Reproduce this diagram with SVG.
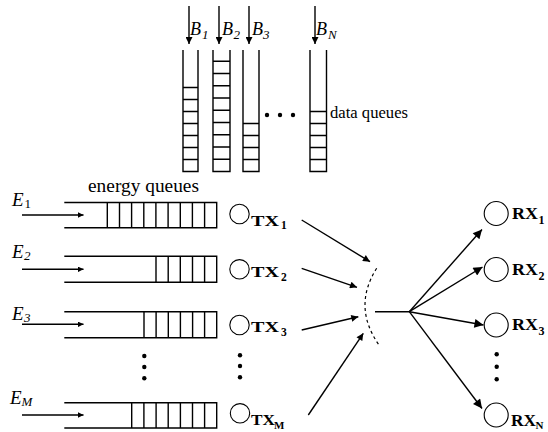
<svg xmlns="http://www.w3.org/2000/svg" width="548" height="432" viewBox="0 0 548 432">
<defs>
<style>
.q{fill:none;stroke:#000;stroke-width:1.4}
.ln{fill:none;stroke:#000;stroke-width:1.4}
.c{fill:#fff;stroke:#000;stroke-width:1.1}
.it{font-family:'Liberation Serif','Times New Roman',Times,serif;font-style:italic;fill:#000}
.rm{font-family:'Liberation Serif','Times New Roman',Times,serif;fill:#000}
.bd{font-family:'Liberation Serif','Times New Roman',Times,serif;font-weight:bold;fill:#000}
.dot{fill:#000}
</style>
<marker id="ah" viewBox="0 0 10 10" refX="10" refY="5" markerWidth="8" markerHeight="5.5" markerUnits="userSpaceOnUse" orient="auto"><path d="M0,0 L10,5 L0,10 z" fill="#000"/></marker>
<marker id="ahs" viewBox="0 0 10 10" refX="10" refY="5" markerWidth="10" markerHeight="7" markerUnits="userSpaceOnUse" orient="auto"><path d="M0,0 L10,5 L0,10 z" fill="#000"/></marker>
<marker id="ahl" viewBox="0 0 10 10" refX="10" refY="5" markerWidth="13" markerHeight="9" markerUnits="userSpaceOnUse" orient="auto"><path d="M0,0 L10,5 L0,10 z" fill="#000"/></marker>
</defs>
<rect width="548" height="432" fill="#fff"/>

<!-- data queues -->
<g id="dq1">
<path class="q" d="M183 50 V171.5 H198 V50"/>
<path class="q" d="M183 159.5 H198 M183 147.5 H198 M183 135.5 H198 M183 123.5 H198 M183 111.5 H198 M183 99.5 H198 M183 87.5 H198"/>
<text class="it" x="190" y="35" font-size="18">B</text><text class="it" x="202" y="39" font-size="13">1</text>
</g>
<g id="dq2">
<path class="q" d="M213 50 V171.5 H230 V50"/>
<path class="q" d="M213 159.25 H230 M213 147 H230 M213 134.75 H230 M213 122.5 H230 M213 110.25 H230 M213 98 H230 M213 85.75 H230 M213 73.5 H230 M213 61.25 H230"/>
<text class="it" x="222" y="35" font-size="18">B</text><text class="it" x="233.5" y="39" font-size="13">2</text>
</g>
<g id="dq3">
<path class="q" d="M243 50 V171.5 H259 V50"/>
<path class="q" d="M243 159.5 H259 M243 147.5 H259 M243 135.5 H259 M243 123.5 H259"/>
<text class="it" x="252" y="35" font-size="18">B</text><text class="it" x="263" y="39" font-size="13">3</text>
</g>
<g id="dqN">
<path class="q" d="M310 50 V171.5 H326.5 V50"/>
<path class="q" d="M310 159.5 H326.5 M310 147.5 H326.5 M310 135.5 H326.5 M310 123.5 H326.5 M310 111.5 H326.5"/>
<text class="it" x="316" y="35" font-size="18">B</text><text class="it" x="328" y="39" font-size="13">N</text>
</g>
<g id="dq-dots">
<circle class="dot" cx="267" cy="115" r="2.2"/><circle class="dot" cx="280" cy="115" r="2.2"/><circle class="dot" cx="293" cy="115" r="2.2"/>
</g>
<text class="rm" x="330" y="118.3" font-size="16.5" textLength="78" lengthAdjust="spacingAndGlyphs">data queues</text>
<text class="rm" x="88" y="191.5" font-size="18.5" textLength="111" lengthAdjust="spacingAndGlyphs">energy queues</text>

<!-- energy queues -->
<g id="eq1">
<path class="q" d="M64.3 202.5 H216.7 V227.7 H64.3"/>
<path class="q" d="M107.3 202.5 V227.7 M119.5 202.5 V227.7 M131.6 202.5 V227.7 M143.8 202.5 V227.7 M155.9 202.5 V227.7 M168.1 202.5 V227.7 M180.3 202.5 V227.7 M192.4 202.5 V227.7 M204.6 202.5 V227.7"/>
<text class="it" x="12" y="205.5" font-size="19">E</text><text class="rm" x="24.5" y="207.5" font-size="13">1</text>
</g>
<g id="eq2">
<path class="q" d="M64.3 256.3 H216.7 V282.2 H64.3"/>
<path class="q" d="M156 256.3 V282.2 M168.2 256.3 V282.2 M180.3 256.3 V282.2 M192.5 256.3 V282.2 M204.6 256.3 V282.2"/>
<text class="it" x="12" y="257.5" font-size="19">E</text><text class="it" x="24" y="260" font-size="13">2</text>
</g>
<g id="eq3">
<path class="q" d="M64.3 311.7 H216.7 V337.7 H64.3"/>
<path class="q" d="M144 311.7 V337.7 M156.1 311.7 V337.7 M168.3 311.7 V337.7 M180.4 311.7 V337.7 M192.6 311.7 V337.7 M204.6 311.7 V337.7"/>
<text class="it" x="12" y="319.5" font-size="19">E</text><text class="it" x="24" y="322" font-size="13">3</text>
</g>
<g id="eqM">
<path class="q" d="M64.3 402.7 H216.7 V428 H64.3"/>
<path class="q" d="M131.7 402.7 V428 M143.9 402.7 V428 M156.1 402.7 V428 M168.2 402.7 V428 M180.4 402.7 V428 M192.5 402.7 V428 M204.6 402.7 V428"/>
<text class="it" x="10" y="403.5" font-size="19">E</text><text class="it" x="21.5" y="406" font-size="13">M</text>
</g>
<g id="eq-dots">
<circle class="dot" cx="144.3" cy="356" r="2.2"/><circle class="dot" cx="144.3" cy="367" r="2.2"/><circle class="dot" cx="144.3" cy="378.3" r="2.2"/>
</g>

<!-- transmitters -->
<g id="tx1"><circle class="c" cx="239.5" cy="214" r="9.7"/><text class="bd" x="251" y="225.5" font-size="15" textLength="28" lengthAdjust="spacingAndGlyphs">TX</text><text class="bd" x="281" y="229" font-size="11.5">1</text></g>
<g id="tx2"><circle class="c" cx="239.5" cy="269.3" r="9.7"/><text class="bd" x="251" y="277" font-size="15" textLength="28" lengthAdjust="spacingAndGlyphs">TX</text><text class="bd" x="281" y="280.5" font-size="11.5">2</text></g>
<g id="tx3"><circle class="c" cx="239.5" cy="325" r="9.7"/><text class="bd" x="251" y="332" font-size="15" textLength="28" lengthAdjust="spacingAndGlyphs">TX</text><text class="bd" x="281" y="335.5" font-size="11.5">3</text></g>
<g id="txM"><circle class="c" cx="240" cy="413.3" r="9.7"/><text class="bd" x="251" y="424.5" font-size="15" textLength="24" lengthAdjust="spacingAndGlyphs">TX</text><text class="bd" x="274" y="429" font-size="11">M</text></g>
<g id="tx-dots">
<circle class="dot" cx="240" cy="355.3" r="2.2"/><circle class="dot" cx="240" cy="366" r="2.2"/><circle class="dot" cx="240" cy="377.3" r="2.2"/>
</g>

<!-- combiner -->
<g id="combiner">
<path d="M376.7 268.3 Q352.2 306.7 379 345" fill="none" stroke="#000" stroke-width="1.2" stroke-dasharray="3,3"/>
</g>

<!-- receivers -->
<g id="rx1"><circle class="c" cx="496.2" cy="213.5" r="12"/><text class="bd" x="512" y="219" font-size="16.5" textLength="26" lengthAdjust="spacingAndGlyphs">RX</text><text class="bd" x="538.5" y="223.5" font-size="12">1</text></g>
<g id="rx2"><circle class="c" cx="496.2" cy="269.5" r="12"/><text class="bd" x="512" y="275" font-size="16.5" textLength="26" lengthAdjust="spacingAndGlyphs">RX</text><text class="bd" x="538.5" y="279.5" font-size="12">2</text></g>
<g id="rx3"><circle class="c" cx="496.2" cy="325" r="12"/><text class="bd" x="512" y="330" font-size="16.5" textLength="26" lengthAdjust="spacingAndGlyphs">RX</text><text class="bd" x="538.5" y="334.5" font-size="12">3</text></g>
<g id="rxN"><circle class="c" cx="496.2" cy="415" r="12"/><text class="bd" x="511" y="425.5" font-size="16.5" textLength="25" lengthAdjust="spacingAndGlyphs">RX</text><text class="bd" x="535.5" y="429" font-size="11">N</text></g>
<g id="rx-dots">
<circle class="dot" cx="496.7" cy="354.3" r="2.2"/><circle class="dot" cx="496.7" cy="366.7" r="2.2"/><circle class="dot" cx="496.7" cy="379.3" r="2.2"/>
</g>

<!-- connectors -->
<g id="connectors">
<line class="ln" x1="189" y1="6" x2="189" y2="44" marker-end="url(#ahs)"/>
<line class="ln" x1="219" y1="6" x2="219" y2="44" marker-end="url(#ahs)"/>
<line class="ln" x1="249" y1="6" x2="249" y2="44" marker-end="url(#ahs)"/>
<line class="ln" x1="315" y1="6" x2="315" y2="44" marker-end="url(#ahs)"/>
<line class="ln" x1="22" y1="215" x2="83.5" y2="215" marker-end="url(#ah)"/>
<line class="ln" x1="22" y1="269.3" x2="83.5" y2="269.3" marker-end="url(#ah)"/>
<line class="ln" x1="22" y1="324.3" x2="83.5" y2="324.3" marker-end="url(#ah)"/>
<line class="ln" x1="22" y1="415" x2="83.5" y2="415" marker-end="url(#ah)"/>
<line class="ln" x1="301.7" y1="220" x2="370" y2="261.7" marker-end="url(#ahs)"/>
<line class="ln" x1="301.7" y1="268.3" x2="357" y2="287.3" marker-end="url(#ahs)"/>
<line class="ln" x1="301.7" y1="330" x2="358.3" y2="316.7" marker-end="url(#ahs)"/>
<line class="ln" x1="308.3" y1="415" x2="363.3" y2="333.3" marker-end="url(#ahs)"/>
<line class="ln" x1="375" y1="311.7" x2="409.3" y2="311.7"/>
<line class="ln" x1="409.3" y1="311.7" x2="482" y2="229.5" marker-end="url(#ahl)"/>
<line class="ln" x1="409.3" y1="311.7" x2="482.5" y2="267" marker-end="url(#ahl)"/>
<line class="ln" x1="409.3" y1="311.7" x2="483.5" y2="325" marker-end="url(#ahl)"/>
<line class="ln" x1="409.3" y1="311.7" x2="482" y2="408.5" marker-end="url(#ahl)"/>
</g>
</svg>
